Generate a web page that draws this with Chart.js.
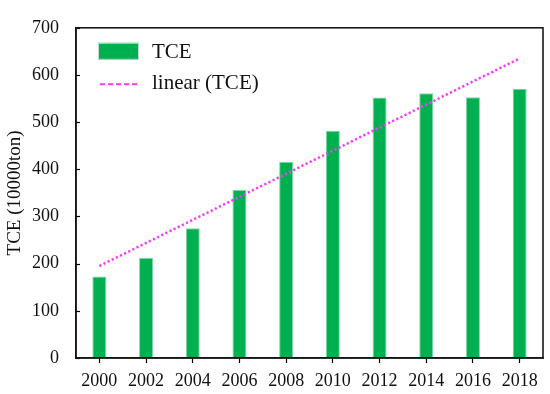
<!DOCTYPE html>
<html>
<head>
<meta charset="utf-8">
<script src="https://cdn.jsdelivr.net/npm/chart.js@4/dist/chart.umd.min.js"></script>
<style>
  html, body { margin: 0; padding: 0; background: #fff; }
  #wrap { width: 550px; height: 394px; }
</style>
</head>
<body>
<div id="wrap"><canvas id="c" width="550" height="394"></canvas></div>
<script>
// Data
const years = ['2000', '2002', '2004', '2006', '2008', '2010', '2012', '2014', '2016', '2018'];
const tceValues = [173, 212, 275, 356, 416, 482, 552, 561, 553, 571];
// Linear trend line: read endpoint values (straight line between them)
const trendValues = [195, null, null, null, null, null, null, null, null, 635];
const yTicks = [0, 100, 200, 300, 400, 500, 600, 700];

const FONT = "'Liberation Serif', 'Times New Roman', serif";
const GREEN = '#00b050';
const MAGENTA = '#f53cf5';

const framePlugin = {
  id: 'frame',
  afterDatasetsDraw(chart) {
    const { ctx, chartArea: a, scales } = chart;
    ctx.save();
    // inward y ticks
    ctx.strokeStyle = '#000';
    ctx.lineWidth = 1.2;
    scales.y.ticks.forEach(t => {
      const py = Math.round(scales.y.getPixelForValue(t.value)) + 0.5;
      ctx.beginPath();
      ctx.moveTo(a.left, py);
      ctx.lineTo(a.left + 4, py);
      ctx.stroke();
    });
    // frame
    ctx.lineWidth = 1.6;
    ctx.strokeStyle = '#1a1a1a';
    ctx.strokeRect(a.left, a.top, a.right - a.left, a.bottom - a.top);
    ctx.restore();
  },
  afterDraw(chart) {
    // legend inside plot, top-left
    const { ctx, chartArea: a } = chart;
    const ds = chart.data.datasets;
    const bar = ds.find(d => d.type === 'bar');
    const line = ds.find(d => d.type === 'line');
    const x0 = a.left + 22;
    ctx.save();
    ctx.font = '21px ' + FONT;
    ctx.textBaseline = 'middle';
    // bar entry
    ctx.fillStyle = bar.backgroundColor;
    ctx.fillRect(x0, a.top + 15, 41, 17);
    ctx.strokeStyle = '#c8d8cc';
    ctx.lineWidth = 1;
    ctx.strokeRect(x0 + 0.5, a.top + 15.5, 40, 16);
    ctx.fillStyle = '#111';
    ctx.fillText(bar.label, x0 + 54, a.top + 25);
    // line entry
    ctx.strokeStyle = line.borderColor;
    ctx.lineWidth = 2;
    ctx.setLineDash([5, 3]);
    ctx.beginPath();
    ctx.moveTo(x0 + 2, a.top + 56.5);
    ctx.lineTo(x0 + 41, a.top + 56.5);
    ctx.stroke();
    ctx.setLineDash([]);
    ctx.fillText(line.label, x0 + 54, a.top + 56);
    ctx.restore();
  }
};

new Chart(document.getElementById('c'), {
  data: {
    labels: years,
    datasets: [
      {
        type: 'line',
        label: 'linear (TCE)',
        data: trendValues,
        borderColor: MAGENTA,
        borderWidth: 2.5,
        borderDash: [2.2, 2.4],
        borderCapStyle: 'butt',
        pointRadius: 0,
        spanGaps: true,
        fill: false,
        order: 0
      },
      {
        type: 'bar',
        label: 'TCE',
        data: tceValues,
        backgroundColor: GREEN,
        borderColor: '#7fd6a0',
        borderWidth: 1,
        barPercentage: 0.3,
        categoryPercentage: 1.0,
        order: 1
      }
    ]
  },
  options: {
    responsive: false,
    animation: false,
    devicePixelRatio: 1,
    layout: { padding: { left: 0, right: 7, top: 15, bottom: 0 } },
    plugins: {
      legend: { display: false },
      tooltip: { enabled: false }
    },
    scales: {
      x: {
        type: 'category',
        offset: true,
        grid: {
          offset: false,
          drawOnChartArea: false,
          drawTicks: true,
          tickLength: 5,
          tickWidth: 1.2,
          tickColor: '#000'
        },
        border: { display: true, color: '#000', width: 1.6 },
        ticks: {
          color: '#111',
          font: { family: FONT, size: 18 },
          padding: 7,
          maxRotation: 0,
          autoSkip: false
        },
        afterFit(scale) { scale.height = 36; }
      },
      y: {
        min: 0,
        max: 700,
        afterBuildTicks(scale) { scale.ticks = yTicks.map(v => ({ value: v })); },
        grid: { drawOnChartArea: false, drawTicks: false },
        border: { display: true, color: '#000', width: 1.6 },
        ticks: {
          color: '#111',
          font: { family: FONT, size: 18 },
          padding: 17
        },
        title: {
          display: true,
          text: 'TCE (10000ton)',
          color: '#111',
          font: { family: FONT, size: 19 },
          padding: { top: 4, bottom: 0 }
        },
        afterFit(scale) { scale.width = 76; }
      }
    }
  },
  plugins: [framePlugin]
});
</script>
</body>
</html>
